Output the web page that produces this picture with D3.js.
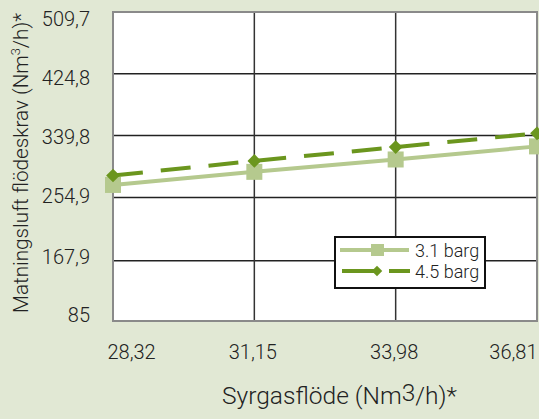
<!DOCTYPE html>
<html>
<head>
<meta charset="utf-8">
<script src="https://cdn.jsdelivr.net/npm/d3@7"></script>
<style>
  body { margin: 0; background: #e1e8d4; }
  svg { display: block; font-family: Roboto, "DejaVu Sans", sans-serif; font-weight: 300; }
</style>
</head>
<body>
<div class="chart"></div>
<script>
// Chart size
const svgWidth = 539;
const svgHeight = 419;

// Plot area
const margin = { top: 12, right: 2, bottom: 98, left: 113 };
const width = svgWidth - margin.left - margin.right;
const height = svgHeight - margin.top - margin.bottom;

// Data
const categories = ["28,32", "31,15", "33,98", "36,81"];
const yTicks = [85, 167.9, 254.9, 339.8, 424.8, 509.7];
const yTickLabels = ["85", "167,9", "254,9", "339,8", "424,8", "509,7"];
const seriesNames = ["3.1 barg", "4.5 barg"];
const barg31 = [272, 290, 307, 325];
const barg45 = [285, 305, 324, 343];

const svg = d3.select(".chart").append("svg")
  .attr("width", svgWidth)
  .attr("height", svgHeight);

svg.append("rect")
  .attr("width", svgWidth).attr("height", svgHeight)
  .attr("fill", "#e1e8d4");

const chart = svg.append("g")
  .attr("transform", "translate(" + margin.left + "," + margin.top + ")");

// Scales
const xScale = d3.scalePoint().domain(categories).range([0, width]);
const yScale = d3.scaleLinear().domain([85, 509.7]).range([height, 0]);
// tick labels sit a bit inside the top and bottom edges
const yLabelScale = yScale.copy().range([height - 7, 6]);

// White plot background
chart.append("rect")
  .attr("width", width).attr("height", height)
  .attr("fill", "#fff");

// Grid lines
chart.append("g")
  .selectAll("line")
  .data(yTicks.slice(1, -1))
  .enter().append("line")
  .attr("x1", 0).attr("x2", width)
  .attr("y1", d => yScale(d)).attr("y2", d => yScale(d))
  .attr("stroke", "#222").attr("stroke-width", 1.5);

chart.append("g")
  .selectAll("line")
  .data(categories.slice(1, -1))
  .enter().append("line")
  .attr("x1", d => xScale(d)).attr("x2", d => xScale(d))
  .attr("y1", 0).attr("y2", height)
  .attr("stroke", "#333").attr("stroke-width", 1.5);

// Plot border
chart.append("rect")
  .attr("width", width).attr("height", height)
  .attr("fill", "none")
  .attr("stroke", "#8a8a8a").attr("stroke-width", 2);

// Y axis labels
const leftAxis = d3.axisLeft(yLabelScale)
  .tickValues(yTicks)
  .tickSize(0)
  .tickPadding(23)
  .tickFormat((d, i) => yTickLabels[i]);

const yAxisG = chart.append("g").call(leftAxis)
  .attr("font-family", null).attr("font-size", null);
yAxisG.select(".domain").remove();
yAxisG.selectAll("text")
  .style("font-size", "20px")
  .attr("fill", "#222")
  .attr("dy", "0.36em");

// X axis labels
const bottomAxis = d3.axisBottom(xScale).tickSize(0).tickPadding(0);
const xAxisG = chart.append("g")
  .attr("transform", "translate(0," + height + ")")
  .call(bottomAxis)
  .attr("font-family", null).attr("font-size", null);
xAxisG.select(".domain").remove();
xAxisG.selectAll("text")
  .style("font-size", "20px")
  .attr("fill", "#222")
  .attr("y", 38)
  .attr("dy", 0)
  .attr("text-anchor", (d, i) => i === 0 ? "start" : (i === categories.length - 1 ? "end" : "middle"))
  .attr("dx", (d, i) => i === 0 ? -6 : (i === categories.length - 1 ? 0 : -2));

// Lines
const line = d3.line()
  .x((d, i) => xScale(categories[i]))
  .y(d => yScale(d));

chart.append("path")
  .datum(barg31)
  .attr("d", line)
  .attr("fill", "none")
  .attr("stroke", "#b5c98e")
  .attr("stroke-width", 4);

chart.selectAll(".sq")
  .data(barg31)
  .enter().append("rect")
  .attr("class", "sq")
  .attr("x", (d, i) => xScale(categories[i]) - 8)
  .attr("y", d => yScale(d) - 8)
  .attr("width", 16).attr("height", 16)
  .attr("fill", "#b5c98e");

chart.append("path")
  .datum(barg45)
  .attr("d", line)
  .attr("fill", "none")
  .attr("stroke", "#6b961e")
  .attr("stroke-width", 4)
  .attr("stroke-dasharray", "30,18");

const diamond = d3.symbol().type(d3.symbolDiamond2).size(120);
chart.selectAll(".dm")
  .data(barg45)
  .enter().append("path")
  .attr("class", "dm")
  .attr("d", diamond)
  .attr("transform", (d, i) => "translate(" + xScale(categories[i]) + "," + yScale(d) + ")")
  .attr("fill", "#6b961e");

// Legend
const legend = svg.append("g").attr("transform", "translate(335,237)");
legend.append("rect")
  .attr("width", 150).attr("height", 51)
  .attr("fill", "#fff")
  .attr("stroke", "#111").attr("stroke-width", 2);

legend.append("line")
  .attr("x1", 5).attr("x2", 74).attr("y1", 13).attr("y2", 13)
  .attr("stroke", "#b5c98e").attr("stroke-width", 4);
legend.append("rect")
  .attr("x", 36).attr("y", 7).attr("width", 13).attr("height", 12)
  .attr("fill", "#b5c98e");

legend.append("line")
  .attr("x1", 7).attr("x2", 75).attr("y1", 34).attr("y2", 34)
  .attr("stroke", "#6b961e").attr("stroke-width", 4)
  .attr("stroke-dasharray", "36,11");
legend.append("path")
  .attr("d", d3.symbol().type(d3.symbolDiamond2).size(70))
  .attr("transform", "translate(42,34)")
  .attr("fill", "#6b961e");

legend.selectAll(".ltext")
  .data(seriesNames)
  .enter().append("text")
  .attr("x", 80)
  .attr("y", (d, i) => 20 + i * 21)
  .style("font-size", "18px")
  .attr("fill", "#222")
  .text(d => d);

// Axis titles
const xTitle = svg.append("text")
  .attr("x", 222).attr("y", 404)
  .attr("textLength", 235)
  .attr("lengthAdjust", "spacingAndGlyphs")
  .style("font-size", "24px")
  .attr("fill", "#222");
xTitle.append("tspan").text("Syrgasflöde (Nm");
xTitle.append("tspan").attr("dy", -3).text("3");
xTitle.append("tspan").attr("dy", 3).text("/h)*");

const yTitle = svg.append("text")
  .attr("transform", "translate(28,313) rotate(-90)")
  .attr("textLength", 300)
  .attr("lengthAdjust", "spacingAndGlyphs")
  .style("font-size", "21px")
  .attr("fill", "#222");
yTitle.append("tspan").text("Matningsluft flödeskrav  (Nm");
yTitle.append("tspan").attr("dy", -8).style("font-size", "13px").text("3");
yTitle.append("tspan").attr("dy", 8).text("/h)*");
</script>
</body>
</html>
